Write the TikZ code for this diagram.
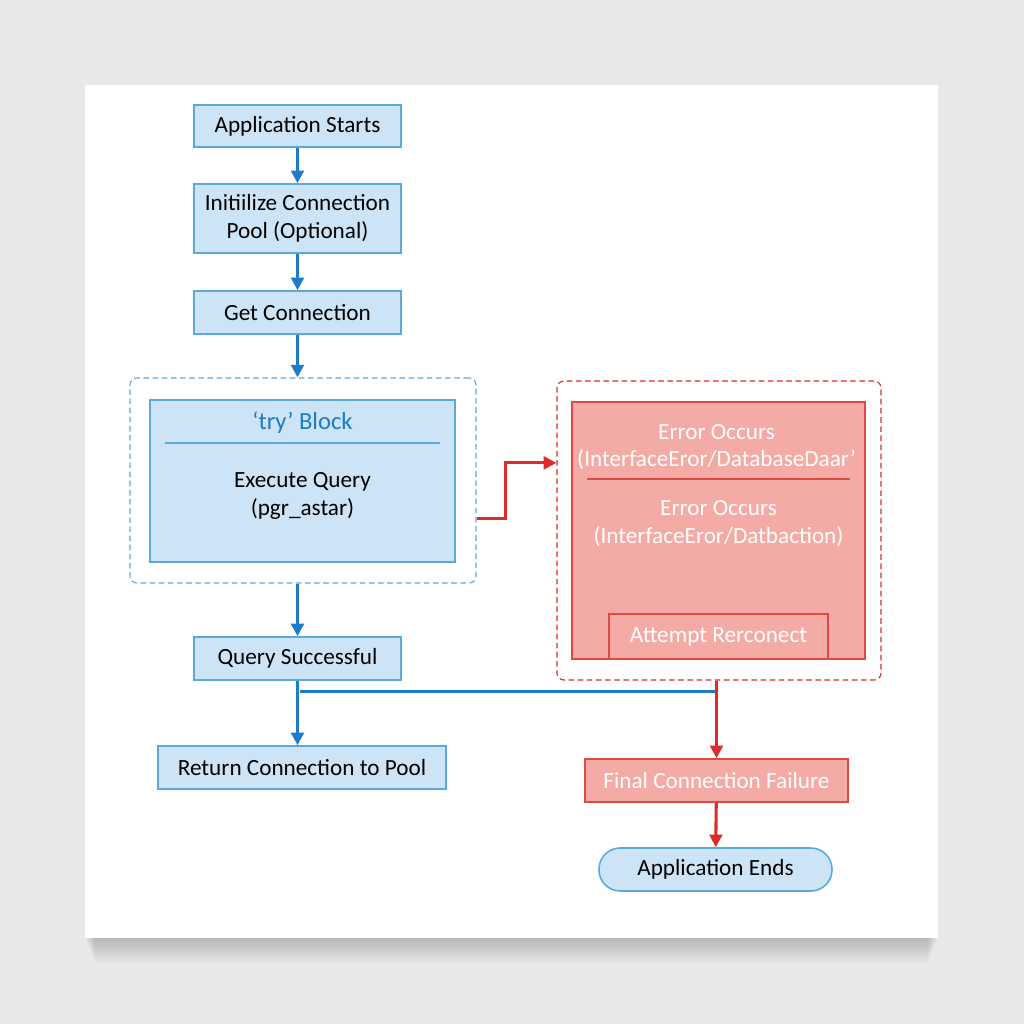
\documentclass[tikz,border=0pt]{standalone}
\usepackage{fontspec}
\setmainfont{Carlito}
\usepackage{tikz}
\usetikzlibrary{shadows,positioning,calc,arrows.meta}
\definecolor{flowblue}{HTML}{1E7BC8}
\definecolor{boxblue}{HTML}{CDE4F6}
\definecolor{edgeblue}{HTML}{5BA8DE}
\definecolor{flowred}{HTML}{DE2A2A}
\definecolor{boxred}{HTML}{F4AAA5}
\definecolor{edgered}{HTML}{E04842}
\definecolor{paper}{HTML}{E8E8E8}
\newcommand{\boxfont}{\fontsize{16.5}{19.5}\selectfont}

\begin{document}
\begin{tikzpicture}[x=0.025cm, y=-0.025cm,
			stepbox/.style={
					rectangle, draw=edgeblue, fill=boxblue, line width=1.1pt,
					align=center, font=\boxfont, inner sep=0pt,
					minimum width=5.175cm, minimum height=1.075cm
				},
			failbox/.style={
					stepbox, draw=edgered, fill=boxred, text=white
				},
			groupbox/.style={
					rectangle, rounded corners=5pt, line width=0.8pt,
					dash pattern=on 4pt off 2.5pt, fill=white
				},
			blueflow/.style={
					draw=flowblue, line width=2.2pt,
					-{Triangle[length=9pt,width=9pt]}
				},
			redflow/.style={
					draw=flowred, line width=2.2pt,
					-{Triangle[length=9pt,width=9pt]}
				}
		]

		% page and card with a soft shadow
		\fill[paper] (0,0) rectangle (1024,1024);
		\foreach \k in {1,...,10}
			\fill[black, opacity=0.018] (85+\k,938) rectangle (938-\k,938+2.5*\k);
		\fill[white] (85,85) rectangle (938,938);
		\useasboundingbox (0,0) rectangle (1024,1024);

		% main column
		\node[stepbox, minimum height=1.05cm] (start) at (297.5,126) {Application Starts};
		\node[stepbox, minimum height=1.725cm] (init) at (297.5,218.5) {Initiilize Connection\\Pool (Optional)};
		\node[stepbox] (getconn) at (297.5,312.5) {Get Connection};

		% try block
		\node[groupbox, draw=edgeblue, minimum width=8.65cm, minimum height=5.125cm] (tryblk) at (303,480.5) {};
		\node[stepbox, minimum width=7.625cm, minimum height=4.05cm] (trybox) at (302.5,481) {};
		\node[font=\fontsize{17.5}{20}\selectfont, text=flowblue] (trytitle) at (302.5,423) {‘try’ Block};
		\draw[edgeblue, line width=0.9pt] (165,443) -- (440,443);
		\node[font=\boxfont, align=center] (tryexec) at (302.5,496) {Execute Query\\(pgr\_astar)};

		% error block
		\node[groupbox, draw=flowred, minimum width=8.1cm, minimum height=7.475cm] (errblk) at (719,530.5) {};
		\node[failbox, minimum width=7.325cm, minimum height=6.425cm] (errbox) at (718.5,530.5) {};
		\node[font=\boxfont, align=center, text=white] (err1) at (716.5,447) {Error Occurs\\(InterfaceEror/DatabaseDaar’};
		\draw[edgered, line width=0.9pt] (587,479) -- (850,479);
		\node[font=\boxfont, align=center, text=white] (err2) at (718.5,523.5) {Error Occurs\\(InterfaceEror/Datbaction)};
		\node[failbox, minimum width=5.475cm, minimum height=1.125cm] (retry) at (718.5,636.5) {Attempt Rerconect};

		% outcomes
		\node[stepbox] (qok) at (297.5,658.5) {Query Successful};
		\node[stepbox, minimum width=7.2cm] (retpool) at (302,767.5) {Return Connection to Pool};
		\node[failbox, minimum width=6.575cm] (fail) at (716.5,780.5) {Final Connection Failure};
		\node[stepbox, minimum width=5.825cm, rounded corners=0.53cm] (append) at (715.5,869.5) {Application Ends};

		% connectors
		\draw[blueflow] (start) -- (init);
		\draw[blueflow] (init) -- (getconn);
		\draw[blueflow] (getconn) -- (getconn |- tryblk.north);
		\draw[blueflow] (qok |- tryblk.south) -- (qok);
		\draw[redflow] ([yshift=-0.94cm]tryblk.east) -- ++(29,0) |- ([yshift=1.69cm]errblk.west);
		\draw[blueflow] (qok) -- (qok |- retpool.north);
		\coordinate (split) at ($(qok.south)+(2.5,11)$);
		\draw[flowblue, line width=2.2pt] (split) -- (split -| fail);
		\draw[redflow] (fail |- errblk.south) -- (fail);
		\draw[redflow] (fail) -- (append);

	\end{tikzpicture}
\end{document}
